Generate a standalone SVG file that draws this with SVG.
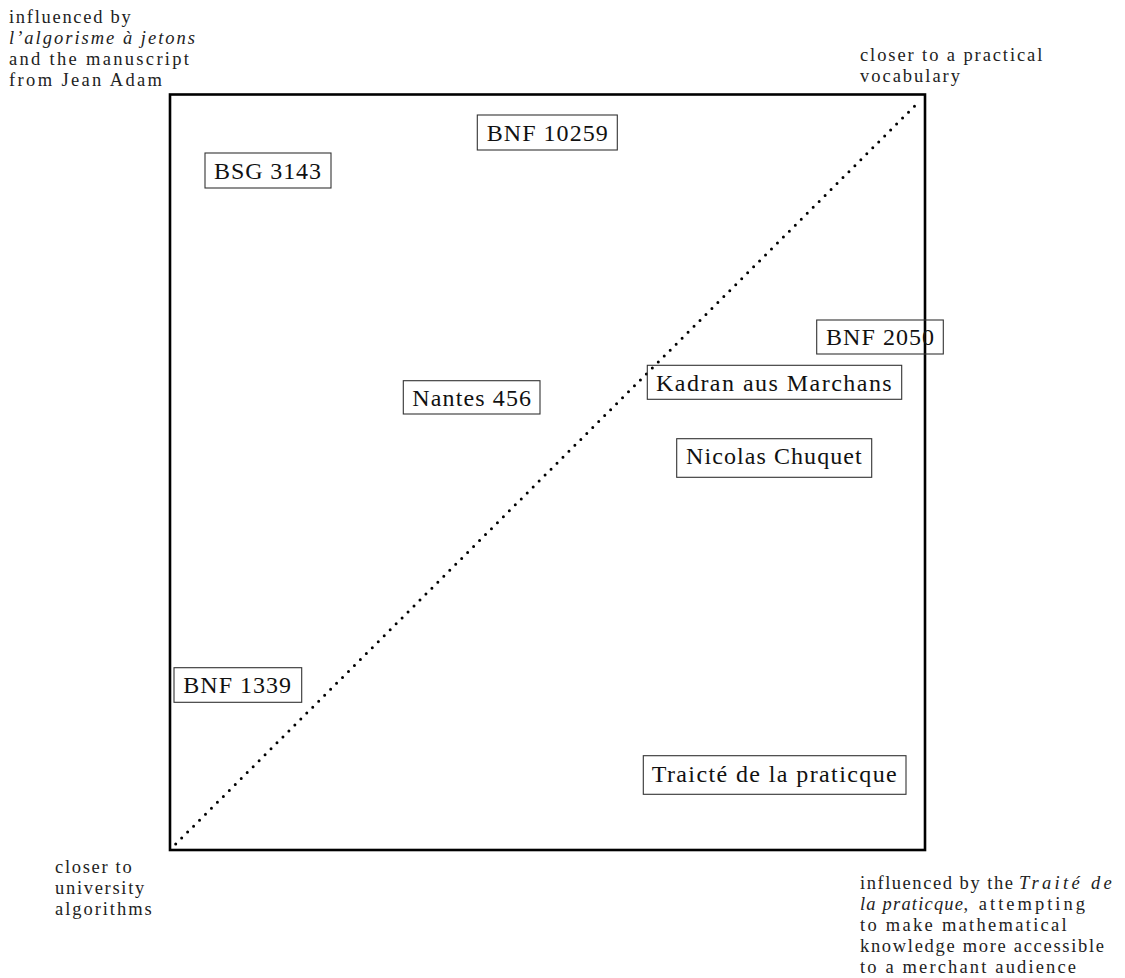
<svg xmlns="http://www.w3.org/2000/svg" width="1125" height="978" viewBox="0 0 1125 978">
<style>
.lbl{font-family:"Liberation Serif","Times New Roman",serif;font-size:18.5px;fill:#222;}
.it{font-style:italic;}
.nt{font-family:"Liberation Serif","Times New Roman",serif;font-size:24px;fill:#111;}
.box{fill:none;stroke:#333;stroke-width:1.1;}
.frame{fill:none;stroke:#000;stroke-width:2.6;}
.diag{stroke:#000;stroke-width:3;stroke-linecap:round;stroke-dasharray:0 8.42;fill:none;}
</style>
<rect width="1125" height="978" fill="#fff"/>
<g id="connectors">
<rect class="frame" x="170" y="94.5" width="755" height="755.5"/>
<line class="diag" x1="175.7" y1="844" x2="920" y2="100.7"/>
</g>
<g id="node-bnf10259">
<rect class="box" x="477.3" y="115" width="140" height="35"/>
<text class="nt" x="486.7" y="141" textLength="121">BNF 10259</text>
</g>
<g id="node-bsg3143">
<rect class="box" x="205" y="153" width="126" height="35"/>
<text class="nt" x="214" y="179" textLength="107">BSG 3143</text>
</g>
<g id="node-bnf2050">
<rect class="box" x="816.7" y="320" width="126.6" height="34"/>
<text class="nt" x="826" y="345" textLength="108">BNF 2050</text>
</g>
<g id="node-kadran">
<rect class="box" x="647.3" y="365.3" width="254.4" height="34"/>
<text class="nt" x="656" y="390.7" textLength="235.7">Kadran aus Marchans</text>
</g>
<g id="node-nantes456">
<rect class="box" x="403.3" y="380.7" width="136.7" height="33.3"/>
<text class="nt" x="412.3" y="406" textLength="118.7">Nantes 456</text>
</g>
<g id="node-chuquet">
<rect class="box" x="676.7" y="438.7" width="195" height="38.6"/>
<text class="nt" x="686" y="464" textLength="175.7">Nicolas Chuquet</text>
</g>
<g id="node-bnf1339">
<rect class="box" x="174" y="667.7" width="127.7" height="34.6"/>
<text class="nt" x="183.3" y="693.3" textLength="107.7">BNF 1339</text>
</g>
<g id="node-traicte">
<rect class="box" x="643.3" y="755.7" width="262.7" height="38.6"/>
<text class="nt" x="651.7" y="781.7" textLength="245">Traicté de la praticque</text>
</g>
<g id="label-top-left">
<text class="lbl" x="9" y="22.5" textLength="121.7">influenced by</text>
<text class="lbl it" x="9" y="43.5" textLength="186">l’algorisme à jetons</text>
<text class="lbl" x="9" y="64.5" textLength="180">and the manuscript</text>
<text class="lbl" x="9" y="85.5" textLength="153">from Jean Adam</text>
</g>
<g id="label-top-right">
<text class="lbl" x="860" y="60.5" textLength="182.3">closer to a practical</text>
<text class="lbl" x="860" y="81.5" textLength="100">vocabulary</text>
</g>
<g id="label-bottom-left">
<text class="lbl" x="55" y="872.5" textLength="76.7">closer to</text>
<text class="lbl" x="55" y="893.5" textLength="89.3">university</text>
<text class="lbl" x="55" y="914.5" textLength="96.7">algorithms</text>
</g>
<g id="label-bottom-right">
<text class="lbl" y="888.5"><tspan x="860" textLength="153">influenced by the</tspan><tspan class="it" x="1019" textLength="92.7">Traité de</tspan></text>
<text class="lbl" y="909.5"><tspan class="it" x="860" textLength="103">la praticque</tspan><tspan x="963.5" textLength="121.5">, attempting</tspan></text>
<text class="lbl" x="860" y="930.5" textLength="206.7">to make mathematical</text>
<text class="lbl" x="860" y="951.5" textLength="244">knowledge more accessible</text>
<text class="lbl" x="860" y="972.5" textLength="216">to a merchant audience</text>
</g>
</svg>
